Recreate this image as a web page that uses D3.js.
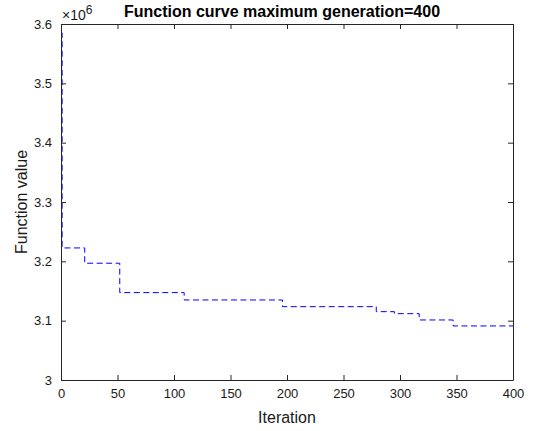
<!DOCTYPE html>
<html>
<head>
<meta charset="utf-8">
<script src="https://cdn.jsdelivr.net/npm/d3@7"></script>
<style>
  body { margin: 0; background: #fff; }
  svg { font-family: "Liberation Sans", Arial, Helvetica, sans-serif; }
</style>
</head>
<body>
<script>
// iteration where each new best value starts (step data)
var iterations = [0, 1, 21, 52, 109, 196, 279, 295, 317, 347, 400];
// best function value (x 1e6)
var values = [3.585, 3.2226, 3.1968, 3.1473, 3.1349, 3.1236, 3.1152, 3.1118, 3.1012, 3.0911, 3.0911];
var xTicks = [0, 50, 100, 150, 200, 250, 300, 350, 400];
var yTicks = [3, 3.1, 3.2, 3.3, 3.4, 3.5, 3.6];

var width = 540, height = 431;
var margin = {left: 61, right: 27, top: 24, bottom: 51};

var svg = d3.select("body").append("svg")
    .attr("width", width)
    .attr("height", height);

var x = d3.scaleLinear().domain([0, 400]).range([margin.left, width - margin.right]);
var y = d3.scaleLinear().domain([3, 3.6]).range([height - margin.bottom, margin.top]);

var data = iterations.map(function(d, i){ return [d, values[i]]; });

// curve
var line = d3.line()
    .x(function(d){ return x(d[0]); })
    .y(function(d){ return y(d[1]); })
    .curve(d3.curveStepAfter);

svg.append("path")
    .datum(data)
    .attr("d", line)
    .attr("fill", "none")
    .attr("stroke", "#0000ff")
    .attr("stroke-width", 1)
    .attr("stroke-dasharray", "6,3.5");

var axisColor = "#262626";

// axes with inward ticks (MATLAB box style)
var xAxis = svg.append("g")
    .attr("transform", "translate(0," + y(3) + ")")
    .call(d3.axisBottom(x).tickValues(xTicks).tickSizeInner(-5).tickSizeOuter(0).tickPadding(9));
var xTop = svg.append("g")
    .attr("transform", "translate(0," + y(3.6) + ")")
    .call(d3.axisTop(x).tickValues(xTicks).tickSizeInner(-5).tickSizeOuter(0).tickFormat(""));
var yAxis = svg.append("g")
    .attr("transform", "translate(" + x(0) + ",0)")
    .call(d3.axisLeft(y).tickValues(yTicks).tickSizeInner(-5).tickSizeOuter(0).tickPadding(9)
        .tickFormat(function(d){ return d3.format("~g")(d); }));
var yRight = svg.append("g")
    .attr("transform", "translate(" + x(400) + ",0)")
    .call(d3.axisRight(y).tickValues(yTicks).tickSizeInner(-5).tickSizeOuter(0).tickFormat(""));

[xAxis, xTop, yAxis, yRight].forEach(function(g){
    g.select(".domain").attr("stroke", axisColor);
    g.selectAll(".tick line").attr("stroke", axisColor);
    g.selectAll(".tick text").attr("fill", "#1a1a1a").style("font-size", "13px")
        .style("font-family", "'Liberation Sans', Arial, sans-serif");
});

// exponent label
var expo = svg.append("text")
    .attr("x", x(0) + 1)
    .attr("y", y(3.6) - 4)
    .attr("fill", "#1a1a1a")
    .style("font-size", "14px");
expo.append("tspan").text("\u00d710");
expo.append("tspan").attr("dy", -6).style("font-size", "12px").text("6");

// title
svg.append("text")
    .attr("x", (x(0) + x(400)) / 2 - 5)
    .attr("y", 17)
    .attr("text-anchor", "middle")
    .attr("font-weight", "bold")
    .style("font-size", "16px")
    .attr("fill", "#000")
    .text("Function curve maximum generation=400");

// axis labels
svg.append("text")
    .attr("x", (x(0) + x(400)) / 2)
    .attr("y", 423)
    .attr("text-anchor", "middle")
    .style("font-size", "16px")
    .attr("fill", "#1a1a1a")
    .text("Iteration");

svg.append("text")
    .attr("transform", "translate(27," + (y(3.3)) + ") rotate(-90)")
    .attr("text-anchor", "middle")
    .style("font-size", "16px")
    .attr("fill", "#1a1a1a")
    .text("Function value");
</script>
</body>
</html>
